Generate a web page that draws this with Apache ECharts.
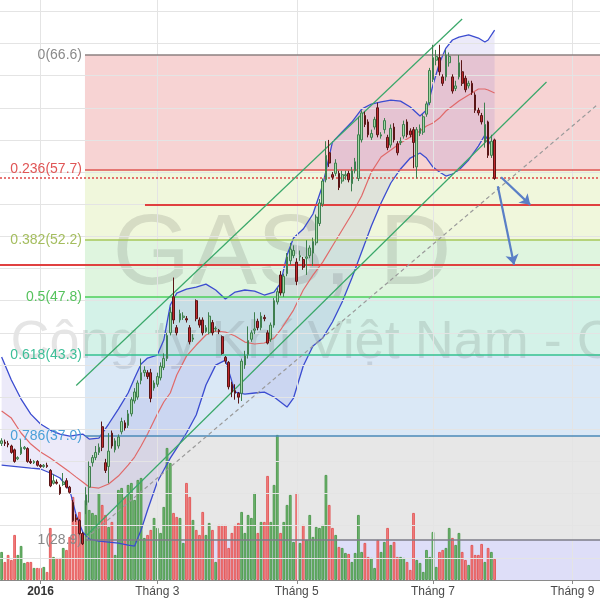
<!DOCTYPE html>
<html><head><meta charset="utf-8">
<script src="https://cdn.jsdelivr.net/npm/echarts@6/dist/echarts.min.js"></script>
<style>html,body{margin:0;padding:0;background:#fff}#c{width:600px;height:600px}</style>
</head><body><div id="c"></div>
<script>
// ---------- data ----------
const N_SLOTS = 185;                       // trading-day slots (Dec 2015 .. Sep 2016)
const monthIdx = [12, 48, 91, 133, 176];
const monthLabels = ['2016', 'Tháng 3', 'Tháng 5', 'Tháng 7', 'Tháng 9'];

// [open, close, low, high]
const ohlc = [
[36.4,36.6,36.2,36.8],[36.5,36.4,36.2,36.7],[36.4,36.3,36.1,36.6],[36.2,35.7,35.6,36.3],[35.9,35.0,34.9,36.0],
[35.2,35.3,35.1,35.4],[35.6,36.1,35.5,36.7],[36.0,36.1,35.9,36.2],[36.0,35.0,34.9,36.1],[35.0,34.9,34.8,35.2],
[34.9,35.0,34.8,35.1],[35.0,34.7,34.6,35.1],[34.7,34.6,34.5,34.8],[34.6,34.7,34.5,34.8],[34.7,34.6,34.5,34.9],
[34.3,33.1,33.0,34.4],[33.3,33.5,33.2,34.0],[33.4,33.3,33.2,33.6],[33.0,32.5,32.4,33.2],[33.2,33.4,33.1,34.1],
[33.5,33.0,32.9,33.7],[33.0,32.6,32.5,33.1],[31.8,30.4,30.3,32.0],[30.6,30.5,30.3,30.9],[30.4,29.4,29.3,30.5],
[29.4,28.6,28.5,29.5],[31.6,32.4,30.9,33.0],[33.0,34.6,31.8,35.0],[34.9,35.3,34.6,35.5],[35.3,35.7,35.1,36.2],
[35.7,36.1,35.5,36.4],[37.7,36.1,35.8,38.1],[34.9,34.3,34.1,35.2],[34.6,35.8,33.3,37.2],[37.2,36.2,36.0,37.4],
[35.9,36.6,35.7,36.8],[36.2,36.9,36.0,37.1],[37.3,38.1,37.1,38.4],[38.0,37.6,37.4,38.2],[37.8,38.7,37.6,39.0],
[38.7,39.8,38.5,40.0],[39.7,40.4,39.5,40.7],[40.0,41.1,39.8,41.3],[41.3,41.9,41.0,43.0],[41.9,42.1,41.6,42.4],
[41.9,41.6,41.4,42.1],[41.9,39.9,39.6,42.2],[40.7,41.1,40.5,41.3],[41.0,41.6,40.8,41.9],[41.5,42.4,41.3,42.7],
[42.3,43.0,42.1,43.4],[43.0,44.8,42.8,45.0],[45.0,46.6,44.8,47.0],[47.8,46.0,45.7,49.3],[45.4,45.0,44.8,45.6],
[46.0,46.5,45.8,46.8],[46.2,46.3,46.0,46.6],[46.1,46.0,45.8,46.3],[45.4,44.3,44.1,45.6],[44.5,44.6,44.3,44.9],
[47.5,46.1,45.9,47.6],[46.0,45.6,45.4,46.2],[46.0,45.0,44.8,46.2],[45.1,45.4,45.0,45.6],[45.0,46.3,44.9,46.6],
[45.8,45.0,44.8,46.0],[45.3,45.35,45.1,45.5],[45.2,45.1,44.9,45.3],[44.7,43.4,43.3,44.8],[43.1,42.8,42.6,43.2],
[42.7,40.8,40.6,42.8],[41.0,40.4,40.0,41.2],[40.5,40.3,39.8,41.0],[40.3,40.0,39.5,40.4],[40.3,42.8,39.7,43.0],
[42.5,43.2,42.2,43.6],[43.3,44.4,43.0,45.5],[44.5,45.0,44.3,45.2],[45.2,45.3,44.9,46.6],[45.9,45.4,45.2,46.1],
[45.4,46.3,45.2,46.6],[46.2,46.1,45.9,46.4],[45.0,44.2,44.1,45.2],[44.5,45.6,44.3,45.8],[45.6,47.5,45.4,47.7],
[47.4,48.2,47.2,48.5],[49.5,48.1,47.9,49.8],[48.1,49.4,47.8,49.6],[49.6,50.9,49.4,51.2],[50.6,51.5,50.3,52.0],
[51.0,51.4,50.8,51.8],[50.5,49.0,48.7,50.8],[50.9,51.0,50.6,51.4],[50.7,50.1,49.9,50.9],[50.8,50.9,49.5,52.2],
[51.0,51.6,50.8,51.8],[51.2,52.1,50.2,52.4],[52.0,54.0,51.8,54.2],[53.5,55.1,53.3,55.4],[55.0,56.8,54.8,57.0],
[56.9,58.8,56.7,59.9],[59.0,58.2,57.9,60.0],[57.3,57.1,56.9,57.5],[57.4,58.2,57.2,58.5],[57.4,56.3,56.1,57.6],
[56.8,57.3,56.6,57.6],[57.2,57.3,56.9,57.6],[57.4,56.9,56.7,57.6],[56.6,57.6,56.0,57.9],[57.6,58.3,57.4,58.6],
[57.0,60.4,56.8,61.8],[60.0,62.1,59.8,62.3],[61.9,61.2,61.0,62.2],[61.4,60.4,60.2,61.6],[60.2,60.5,60.0,60.8],
[61.0,61.6,60.8,61.8],[62.5,60.4,60.2,62.9],[60.3,60.4,60.1,60.6],[60.8,61.5,60.5,61.7],[60.2,59.4,59.2,60.4],
[59.6,60.9,59.4,61.2],[61.0,60.0,59.8,61.3],[59.7,59.0,58.8,59.9],[59.8,59.9,59.6,60.2],[60.3,61.2,60.1,61.5],
[61.4,60.4,60.2,61.6],[60.7,60.4,60.2,60.9],[60.8,59.8,57.8,61.0],[57.9,60.8,57.0,61.0],[60.5,60.9,60.3,61.2],
[60.6,61.8,60.4,62.0],[62.0,62.8,61.8,63.0],[62.9,65.4,62.7,65.6],[64.7,66.4,64.5,67.4],[66.2,66.5,65.8,67.0],
[66.4,65.3,65.0,67.4],[64.9,64.4,64.2,65.1],[64.9,66.6,64.6,67.0],[66.0,66.5,65.7,66.8],[64.9,63.8,63.6,65.1],
[64.0,64.2,63.8,64.6],[64.9,66.0,64.7,66.6],[65.3,64.4,64.2,66.2],[64.8,63.9,63.7,65.0],[64.2,64.4,64.0,64.6],
[64.4,63.7,63.5,64.6],[63.5,62.3,62.1,63.7],[62.3,62.1,61.9,62.5],[61.9,61.4,61.2,62.1],[59.8,61.2,59.4,62.9],
[61.4,58.8,58.6,61.5],[58.8,59.9,58.6,60.4],[60.0,57.0,56.9,60.1]
];

const volume = [
28,18,25,20,45,25,34,17,18,18, 12,12,12,13,8,52,23,22,22,32,
30,43,83,62,68,45,80,70,67,65, 87,75,65,53,58,25,90,92,83,95,
97,80,100,102,42,45,50,62,52,47, 73,132,117,67,63,62,37,97,83,60,
50,45,68,45,57,50,18,55,55,55, 32,47,55,57,68,47,65,62,87,47,
58,58,104,58,95,145,47,58,75,85, 38,87,37,55,40,65,43,53,52,55,
105,75,52,45,33,32,27,26,18,27, 65,28,37,23,22,12,40,28,38,52,
35,38,23,23,22,18,10,67,20,17, 8,30,23,48,13,28,30,32,52,42,
35,47,28,20,15,35,25,25,36,18, 32,28,21
];

// Bollinger bands, read at these bar indices
const bbIdx = [0,3,6,9,12,15,18,21,23,25,27,30,33,36,39,41,43,45,48,50,52,54,57,60,63,66,69,72,75,78,81,84,86,88,90,93,96,99,102,105,108,111,114,117,120,123,126,129,131,133,135,137,139,141,144,147,149,150,152];
const bbUpper = [43.12,41.33,39.85,38.68,37.91,37.44,37.13,36.97,37.05,37.13,36.74,36.82,37.91,39.07,40.32,41.48,42.57,43.04,43.27,44.44,47.16,48.09,48.40,48.56,48.79,48.33,47.63,48.17,48.33,48.25,47.94,48.17,48.87,51.05,52.37,53.07,54.24,56.49,59.83,60.61,61.39,62.40,62.79,62.95,63.10,63.02,62.56,61.86,62.32,64.27,65.98,67.14,67.77,68.0,68.16,67.92,67.61,67.77,68.54];
const bbMid = [38.92,38.37,37.21,36.35,35.73,35.26,34.72,34.17,33.78,33.40,33.01,32.93,33.24,33.86,34.72,35.34,36.20,37.13,38.68,39.62,40.32,41.72,43.19,44.05,44.83,45.14,45.06,44.75,44.28,44.13,44.21,44.59,45.22,45.99,46.77,48.33,49.49,50.50,51.75,53.0,54.24,55.64,57.50,58.67,59.21,59.76,60.22,60.69,61.08,61.31,61.70,62.25,62.63,63.02,63.49,63.96,63.96,63.88,63.65];
const bbLower = [34.72,34.64,34.56,34.48,34.41,34.10,33.71,32.77,30.83,29.51,28.96,28.81,28.73,28.65,28.50,28.42,29.66,31.22,33.40,34.33,35.26,36.04,37.21,38.61,40.94,42.49,42.88,40.39,40.24,40.32,40.39,40.01,39.62,39.23,39.93,42.42,43.97,44.59,45.84,47.39,49.26,51.28,53.30,55.09,56.65,57.74,58.59,58.98,58.59,57.89,57.50,57.19,57.35,57.66,58.44,59.52,60.38,59.99,59.06];

// Fibonacci retracement
const fibRatios = ['0', '0.236', '0.382', '0.5', '0.618', '0.786', '1'];
const fibPrices = [66.6, 57.7, 52.2, 47.8, 43.3, 37.0, 28.9];
const fibStartIdx = 25.7;

// price grid
const gridPrices = [27.5,30,32.5,35,37.5,40,42.5,45,47.5,50,52.5,55,57.5,60,62.5,65,67.5,70];
const yMin = 25.78, yMax = 70.88;

// drawings: [barIndex, price]
const lastPrice = 57.05;
const redLineA = [[44.2, 54.95], [184.5, 54.95]];
const redLineB = [[-0.5, 50.3], [184.5, 50.3]];
const channelUpper = [[23, 40.9], [142, 69.4]];
const channelLower = [[26, 29.2], [168, 64.5]];
const medianLine = [[26, 29.0], [184, 62.8]];
const arrow1 = [[154, 57.1], [163, 54.95]];
const arrow2 = [[153, 56.4], [158, 50.3]];

// ---------- styles ----------
const FONT = 'Liberation Sans, Arial, sans-serif';
const fibLineColors = ['#8c8080', '#e05050', '#a6c75a', '#4ccf5a', '#33c28f', '#4a8ab8', '#7c7c88'];
const fibLabelColors = ['#8a8a8a', '#e05555', '#a4bd5e', '#55c25c', '#3dbf98', '#4aa0d8', '#8a8a8a'];
const fibFills = ['rgba(225,80,80,0.25)', 'rgba(170,210,60,0.18)', 'rgba(80,200,80,0.18)',
  'rgba(40,190,140,0.2)', 'rgba(70,140,210,0.2)', 'rgba(120,120,120,0.18)', 'rgba(90,90,220,0.2)'];

const cats = Array.from({length: N_SLOTS}, (_, i) => String(i));
const isMonth = (i) => monthIdx.indexOf(i) >= 0;

const fibAreas = fibPrices.map((p, k) => {
  const lower = k + 1 < fibPrices.length ? fibPrices[k + 1] : yMin;
  return [{coord: [fibStartIdx, p], itemStyle: {color: fibFills[k]}}, {coord: [N_SLOTS - 0.5, lower]}];
});
const fibLines = fibPrices.map((p, k) => [
  {coord: [fibStartIdx, p], lineStyle: {color: fibLineColors[k], width: 1.5, type: 'solid'},
   label: {show: true, position: 'start', formatter: fibRatios[k] + '(' + p.toFixed(1) + ')',
     color: fibLabelColors[k], fontSize: 14, fontFamily: FONT, distance: 3}},
  {coord: [N_SLOTS - 0.5, p]}
]);
const seg = (pts, style, endSym) => [
  {coord: pts[0], lineStyle: style, symbol: 'none'},
  {coord: pts[1], symbol: endSym || 'none', symbolSize: endSym ? 10 : 0}
];

const upC = '#a3d9a5', upB = '#3f7f4f', dnC = '#c0282d', dnB = '#5a1616';

const option = {
  animation: false,
  backgroundColor: '#ffffff',
  grid: {left: 0, right: 0, top: 0, bottom: 20, containLabel: false},
  xAxis: [
    {type: 'category', data: cats, boundaryGap: true,
     axisLine: {show: true, lineStyle: {color: '#8a8a8a', width: 1}},
     axisTick: {show: true, alignWithLabel: true, interval: (i) => isMonth(i), length: 4, lineStyle: {color: '#8a8a8a'}},
     axisLabel: {interval: (i) => isMonth(i), margin: 6, color: '#4a4a4a', fontSize: 12, fontFamily: FONT,
       formatter: (v) => { const k = monthIdx.indexOf(Number(v)); if (k < 0) return ''; return k === 0 ? '{b|' + monthLabels[k] + '}' : monthLabels[k]; },
       rich: {b: {fontWeight: 'bold', color: '#333', fontSize: 12, fontFamily: FONT}}},
     splitLine: {show: false}},
    {type: 'value', min: -0.5, max: N_SLOTS - 0.5, show: false, splitLine: {show: false}}
  ],
  yAxis: [
    {type: 'value', min: yMin, max: yMax, show: false, splitLine: {show: false}, scale: true},
    {type: 'value', min: 0, max: 580, show: false, splitLine: {show: false}}
  ],
  graphic: [
    {type: 'text', x: 282, y: 256, z: 2, silent: true,
     style: {text: 'GAS, D', fontSize: 100, fontFamily: FONT, fill: 'rgba(40,40,40,0.13)', align: 'center', verticalAlign: 'middle', textAlign: 'center', textVerticalAlign: 'middle'}},
    {type: 'text', x: 298, y: 343, z: 2, silent: true,
     style: {text: 'Tổng Công ty Khí Việt Nam - CTCP', fontSize: 54, fontFamily: FONT, fill: 'rgba(40,40,40,0.12)', align: 'center', verticalAlign: 'middle', textAlign: 'center', textVerticalAlign: 'middle'}}
  ],
  series: [
    { // grid lines
      type: 'line', xAxisIndex: 1, yAxisIndex: 0, data: [], z: 0, silent: true,
      markLine: {silent: true, symbol: ['none', 'none'], label: {show: false},
        lineStyle: {color: '#e4e4e4', width: 1, type: 'solid'},
        data: gridPrices.map(p => ({yAxis: p})).concat(monthIdx.map(i => ({xAxis: i})))}
    },
    { // fib background
      type: 'line', xAxisIndex: 1, yAxisIndex: 0, data: [], z: 1, silent: true,
      markArea: {silent: true, data: fibAreas}
    },
    { // Bollinger fill
      type: 'custom', xAxisIndex: 1, yAxisIndex: 0, z: 3, silent: true, data: [0],
      renderItem: (params, api) => {
        const pts = [];
        for (let k = 0; k < bbIdx.length; k++) pts.push(api.coord([bbIdx[k], bbUpper[k]]));
        for (let k = bbIdx.length - 1; k >= 0; k--) pts.push(api.coord([bbIdx[k], bbLower[k]]));
        return {type: 'polygon', shape: {points: pts}, style: {fill: 'rgba(110,90,210,0.13)'}};
      }
    },
    {type: 'line', xAxisIndex: 1, yAxisIndex: 0, z: 4, silent: true, symbol: 'none',
     data: bbIdx.map((x, k) => [x, bbUpper[k]]), lineStyle: {color: '#3b4cd0', width: 1.3}},
    {type: 'line', xAxisIndex: 1, yAxisIndex: 0, z: 4, silent: true, symbol: 'none',
     data: bbIdx.map((x, k) => [x, bbLower[k]]), lineStyle: {color: '#3b4cd0', width: 1.3}},
    {type: 'line', xAxisIndex: 1, yAxisIndex: 0, z: 4, silent: true, symbol: 'none',
     data: bbIdx.map((x, k) => [x, bbMid[k]]), lineStyle: {color: '#e06a6a', width: 1.2}},
    { // volume
      type: 'bar', xAxisIndex: 0, yAxisIndex: 1, z: 4, silent: true, barWidth: 2.6,
      data: volume.map((v, i) => {
        const up = ohlc[i][1] >= ohlc[i][0];
        return {value: v, itemStyle: {color: up ? '#72b872' : '#f38383', borderColor: up ? '#3f8f3f' : '#e04848', borderWidth: 0.8}};
      })
    },
    { // candles
      type: 'candlestick', xAxisIndex: 0, yAxisIndex: 0, z: 5, silent: true, barWidth: 2.2,
      data: ohlc,
      itemStyle: {color: upC, color0: dnC, borderColor: upB, borderColor0: dnB, borderWidth: 1}
    },
    { // drawings
      type: 'line', xAxisIndex: 1, yAxisIndex: 0, data: [], z: 6, silent: true,
      markLine: {silent: true, symbol: ['none', 'none'], label: {show: false}, animation: false,
        data: [
          ...fibLines,
          {yAxis: lastPrice, lineStyle: {color: '#e04848', width: 1.5, type: [2, 2]}},
          seg(redLineA, {color: '#e04040', width: 2, type: 'solid'}),
          seg(redLineB, {color: '#e04040', width: 2, type: 'solid'}),
          seg(channelUpper, {color: '#3aa86a', width: 1.2, type: 'solid'}),
          seg(channelLower, {color: '#3aa86a', width: 1.2, type: 'solid'}),
          seg(medianLine, {color: '#9a9a9a', width: 1.2, type: [4, 3]}),
          seg(arrow1, {color: '#5a7fc6', width: 2.2, type: 'solid'}, 'arrow'),
          seg(arrow2, {color: '#5a7fc6', width: 2.2, type: 'solid'}, 'arrow')
        ]}
    }
  ]
};

const chart = echarts.init(document.getElementById('c'), null, {renderer: 'canvas'});
chart.setOption(option);
</script>
</body></html>
